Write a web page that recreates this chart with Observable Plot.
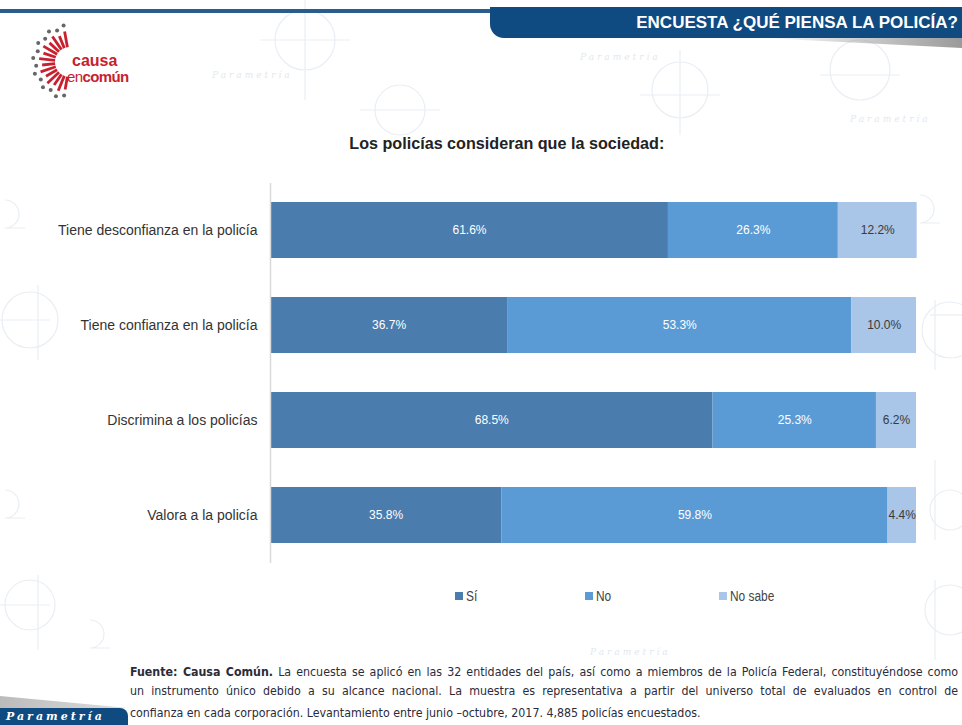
<!DOCTYPE html>
<html><head><meta charset="utf-8">
<script src="https://cdn.jsdelivr.net/npm/d3@7"></script>
<script src="https://cdn.jsdelivr.net/npm/@observablehq/plot@0.6"></script>
<style>
html,body{margin:0;padding:0;background:#fff;}
#page{position:relative;width:962px;height:725px;overflow:hidden;font-family:"Liberation Sans",Arial,sans-serif;}
.abs{position:absolute;}
#bg{left:0;top:0;}
#topline{left:0;top:9px;width:495px;height:4px;background:#2a5d8f;}
#banner{left:490px;top:7px;width:472px;height:31px;background:#0f4a80;border-bottom-left-radius:14px;color:#fff;}
#banner span{position:absolute;right:4px;top:0;line-height:31px;font-weight:bold;font-size:17px;white-space:nowrap;}
#shadow{left:760px;top:38px;width:202px;height:10px;background:linear-gradient(to right,rgba(200,200,200,0),#9a9a9a);clip-path:polygon(0 0,100% 0,100% 100%);}
#title{left:0;width:1014px;top:134px;text-align:center;}
#title span{display:inline-block;font-size:17px;font-weight:bold;color:#222;transform:scaleX(0.95);}
#legend{left:0;top:588px;font-size:14px;color:#444;}
.sw{position:absolute;display:flex;align-items:center;gap:3px;white-space:nowrap;}
.sw span{display:inline-block;transform:scaleX(0.85);transform-origin:left center;}
.sw i{display:inline-block;width:8px;height:8px;}
.foot{left:130px;width:828px;font-size:12.3px;color:#2b2b3a;white-space:nowrap;font-family:"DejaVu Sans Condensed","DejaVu Sans",sans-serif;}
.j{text-align:justify;text-align-last:justify;white-space:normal;}
#param{left:0;top:708px;width:128px;height:17px;background:#0f4a80;border-top-right-radius:8px;color:#fff;font-style:italic;font-weight:bold;font-size:11px;letter-spacing:3px;line-height:17px;text-indent:6px;font-family:"DejaVu Serif",serif;}
#paramsh{left:0;top:696px;width:128px;height:12px;background:linear-gradient(to right,#bbb,#ddd);clip-path:polygon(0 100%,0 0,100% 100%);}
</style></head>
<body><div id="page">
<svg class="abs" id="bg" width="962" height="725" fill="none" stroke="#e9eef4" stroke-width="1.2">
  <circle cx="305" cy="40" r="30"/><line x1="260" y1="40" x2="350" y2="40"/><line x1="305" y1="0" x2="305" y2="100"/>
  <circle cx="400" cy="110" r="25"/><line x1="360" y1="110" x2="440" y2="110"/>
  <circle cx="680" cy="90" r="28"/><line x1="640" y1="95" x2="720" y2="95"/><line x1="680" y1="50" x2="680" y2="135"/>
  <circle cx="860" cy="70" r="30"/><line x1="820" y1="75" x2="900" y2="75"/>
  <circle cx="950" cy="330" r="28"/><line x1="935" y1="300" x2="935" y2="370"/><line x1="930" y1="315" x2="962" y2="315"/>
  <circle cx="950" cy="510" r="20"/><line x1="935" y1="460" x2="935" y2="540"/>
  <circle cx="950" cy="610" r="25"/><line x1="935" y1="580" x2="935" y2="660"/>
  <circle cx="30" cy="320" r="28"/><line x1="0" y1="320" x2="50" y2="320"/><line x1="38" y1="285" x2="38" y2="360"/>
  <circle cx="30" cy="605" r="25"/><line x1="0" y1="605" x2="50" y2="605"/><line x1="38" y1="575" x2="38" y2="650"/>
  <path d="M5,200 a14,14 0 0 1 0,28 h20"/><path d="M5,490 a14,14 0 0 1 0,28 h20"/>
  <path d="M90,620 a14,14 0 0 1 0,28 h20"/><path d="M920,195 a14,14 0 0 1 0,28 h20"/>
  <g fill="#e2e8ef" stroke="none" font-family="DejaVu Serif" font-style="italic" font-size="9" letter-spacing="3">
    <text x="580" y="60">Parametría</text><text x="212" y="78">Parametría</text>
    <text x="850" y="122">Parametría</text>
    <text x="590" y="655">Parametría</text>
  </g>
</svg>
<div class="abs" id="topline"></div>
<div class="abs" id="banner"><span>ENCUESTA ¿QUÉ PIENSA LA POLICÍA?</span></div>
<div class="abs" id="shadow"></div>
<svg class="abs" style="left:20px;top:18px" width="130" height="90" viewBox="0 0 130 90">
  <g id="rays" transform="translate(50,44)"></g>
  <text x="52" y="48" font-family="Liberation Sans, Arial, sans-serif" font-weight="bold" font-size="16" fill="#c8202f">causa</text>
  <text x="47" y="64" font-family="Liberation Sans, Arial, sans-serif" font-size="15" fill="#c8202f" letter-spacing="-0.6">en<tspan font-weight="bold">común</tspan></text>
</svg>
<div class="abs" id="title"><span>Los policías consideran que la sociedad:</span></div>
<div class="abs" id="chart" style="left:0;top:175px"></div>
<div class="abs" id="legend"></div>
<div class="abs foot j" style="top:665px"><b>Fuente: Causa Común.</b> La encuesta se aplicó en las 32 entidades del país, así como a miembros de la Policía Federal, constituyéndose como</div>
<div class="abs foot j" style="top:684px">un instrumento único debido a su alcance nacional. La muestra es representativa a partir del universo total de evaluados en control de</div>
<div class="abs foot" style="top:706px">confianza en cada corporación. Levantamiento entre junio –octubre, 2017. 4,885 policías encuestados.</div>
<div class="abs" id="paramsh"></div>
<div class="abs" id="param">Parametría</div>
</div>
<script>
// Data
const categories = ["Tiene desconfianza en la policía","Tiene confianza en la policía","Discrimina a los policías","Valora a la policía"];
const responses = ["Sí","No","No sabe"];
const si      = [61.6, 36.7, 68.5, 35.8];
const no      = [26.3, 53.3, 25.3, 59.8];
const noSabe  = [12.2, 10.0, 6.2, 4.4];
const colors = ["#4a7cad","#5b9bd5","#a9c5e8"];

const series = [si, no, noSabe];
const data = [];
categories.forEach((c, i) => responses.forEach((r, j) => data.push({cat: c, resp: r, value: series[j][i]})));

// logo rays (decoration)
const g = document.getElementById("rays");
const nR = 14;
for (let k = 0; k < nR; k++) {
  const a = (100 + k * (160 / (nR - 1))) * Math.PI / 180;
  const r1 = 15, r2 = 28 + (k % 2) * 3;
  const l = document.createElementNS("http://www.w3.org/2000/svg","line");
  l.setAttribute("x1", Math.cos(a) * r1); l.setAttribute("y1", Math.sin(a) * r1);
  l.setAttribute("x2", Math.cos(a) * r2); l.setAttribute("y2", Math.sin(a) * r2);
  l.setAttribute("stroke", "#c8202f"); l.setAttribute("stroke-width", "2.8");
  g.appendChild(l);
  const d = document.createElementNS("http://www.w3.org/2000/svg","circle");
  d.setAttribute("cx", Math.cos(a) * (r2 + 6)); d.setAttribute("cy", Math.sin(a) * (r2 + 6));
  d.setAttribute("r", 2); d.setAttribute("fill", "#666");
  g.appendChild(d);
}

const fmt = d => d.value.toFixed(1) + "%";
const chart = Plot.plot({
  width: 962,
  height: 395,
  marginLeft: 270,
  marginRight: 46,
  marginTop: 8,
  marginBottom: 7,
  style: {fontFamily: '"Liberation Sans",Arial,sans-serif', background: "transparent"},
  x: {domain: [0, 100], axis: null},
  y: {domain: categories, paddingInner: 0.41, paddingOuter: 0.205, label: null},
  color: {domain: responses, range: colors},
  marks: [
    Plot.barX(data, Plot.stackX({x: "value", y: "cat", fill: "resp", z: "resp", order: responses})),
    Plot.ruleX([0], {stroke: "#d9d9d9", strokeWidth: 1.5}),
    Plot.textX(data, Plot.stackX({x: "value", y: "cat", z: "resp", order: responses,
      text: d => d.resp !== "No sabe" ? fmt(d) : null, fill: "white", fontSize: 12})),
    Plot.textX(data, Plot.stackX({x: "value", y: "cat", z: "resp", order: responses,
      text: d => d.resp === "No sabe" ? fmt(d) : null, fill: "#3a3a3a", fontSize: 12})),
    Plot.axisY({tickSize: 0, tickPadding: 13, fontSize: 14, fill: "#333", label: null})
  ]
});
document.getElementById("chart").appendChild(chart);

// legend
const leg = document.getElementById("legend");
const lx = [455, 585, 719];
responses.forEach((r, i) => {
  const s = document.createElement("div");
  s.className = "sw";
  s.style.left = lx[i] + "px";
  s.innerHTML = `<i style="background:${colors[i]}"></i><span>${r}</span>`;
  leg.appendChild(s);
});
</script>
</body></html>
